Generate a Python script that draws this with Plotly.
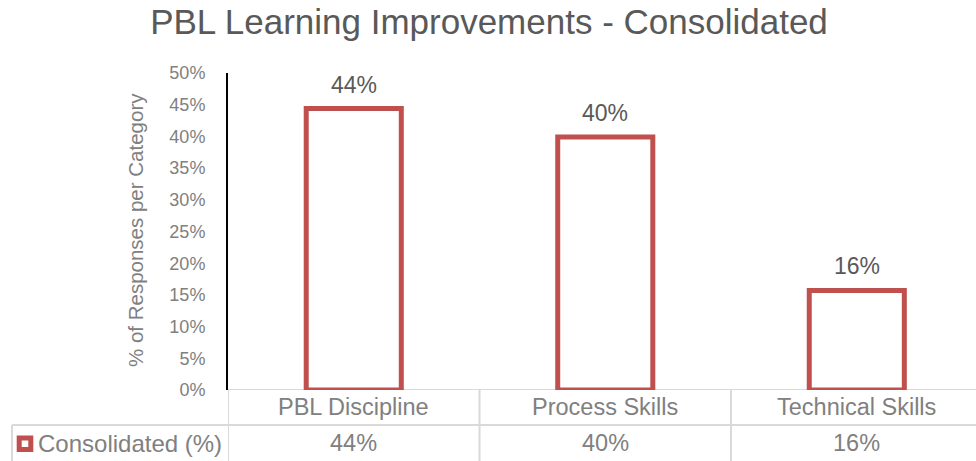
import plotly.graph_objects as go

categories = ["PBL Discipline", "Process Skills", "Technical Skills"]
values = [0.444, 0.399, 0.157]
value_labels = ["44%", "40%", "16%"]
series_name = "Consolidated (%)"
title_text = "PBL Learning Improvements - Consolidated"
y_title = "% of Responses per Category"

RED = "#C0504D"
GRID = "#D9D9D9"
TXT = "#808080"
DARK = "#595959"
FONT = "Liberation Sans, Arial, sans-serif"

W, H = 976, 461
L, R, T, B = 228, 0, 73, 71
pw, ph = W - L - R, H - T - B

def px_x(x):
    return (x - L) / pw

def px_y(y):
    return (H - B - y) / ph

fig = go.Figure()
fig.add_trace(go.Bar(
    x=categories, y=values, width=0.378,
    marker=dict(color="white", line=dict(color=RED, width=5)),
    name=series_name, showlegend=False, hoverinfo="skip",
))

ann = []
# data labels
for c, v, t in zip(categories, values, value_labels):
    ann.append(dict(x=c, y=v, xref="x", yref="y", text=t, showarrow=False,
                    yanchor="middle", yshift=24,
                    font=dict(size=23, color=DARK, family=FONT)))
# table: category row and value row
for c, t in zip(categories, value_labels):
    ann.append(dict(x=c, y=px_y(407), xref="x", yref="paper", text=c, showarrow=False,
                    yanchor="middle", font=dict(size=23.5, color=TXT, family=FONT)))
    ann.append(dict(x=c, y=px_y(443), xref="x", yref="paper", text=t, showarrow=False,
                    yanchor="middle", font=dict(size=23.5, color=TXT, family=FONT)))
ann.append(dict(x=px_x(36), y=px_y(443), xref="paper", yref="paper", text=series_name,
                showarrow=False, xanchor="left", yanchor="middle",
                font=dict(size=24, color=TXT, family=FONT)))
# y axis title
ann.append(dict(x=px_x(135), y=px_y(230), xref="paper", yref="paper", text=y_title,
                showarrow=False, textangle=-90, xanchor="center", yanchor="middle",
                font=dict(size=20.5, color=TXT, family=FONT)))

shapes = []
# baseline
shapes.append(dict(type="line", xref="paper", yref="y", x0=0, x1=1, y0=0, y1=0,
                   line=dict(color=GRID, width=2), layer="below"))
# row separator
shapes.append(dict(type="line", xref="paper", yref="paper", x0=px_x(12), x1=1,
                   y0=px_y(425), y1=px_y(425), line=dict(color=GRID, width=2)))
# left border of legend cell
shapes.append(dict(type="line", xref="paper", yref="paper", x0=px_x(12), x1=px_x(12),
                   y0=px_y(425), y1=px_y(470), line=dict(color=GRID, width=2)))
# vertical table lines at category boundaries
for i in range(len(categories) + 1):
    shapes.append(dict(type="line", xref="x", yref="paper", x0=i - 0.5, x1=i - 0.5,
                       y0=0, y1=px_y(470), line=dict(color=GRID, width=2)))
# legend key
shapes.append(dict(type="rect", xref="paper", yref="paper",
                   x0=px_x(19.2), x1=px_x(30.8), y0=px_y(438), y1=px_y(449.5),
                   fillcolor="white", line=dict(color=RED, width=5)))

fig.update_layout(
    width=W, height=H,
    margin=dict(l=L, r=R, t=T, b=B, pad=0),
    paper_bgcolor="white", plot_bgcolor="white",
    title=dict(text=title_text, x=489 / W, xanchor="center", xref="container",
               y=1 - 22 / H, yref="container", yanchor="middle",
               font=dict(size=35, color=DARK, family=FONT)),
    font=dict(family=FONT, color=TXT),
    xaxis=dict(range=[-0.5, 2.474], showticklabels=False, showgrid=False,
               zeroline=False, showline=False, ticks=""),
    yaxis=dict(range=[0, 0.5], dtick=0.05, tickformat=".0%", showgrid=False,
               zeroline=False, showline=True, linecolor="black", linewidth=2,
               ticks="", ticklabelstandoff=17,
               tickfont=dict(size=18, color=TXT, family=FONT)),
    annotations=ann, shapes=shapes,
)

fig.write_html("out.html", config={"displayModeBar": False},
               post_script="document.body.style.margin='0';document.body.style.overflow='hidden';")
